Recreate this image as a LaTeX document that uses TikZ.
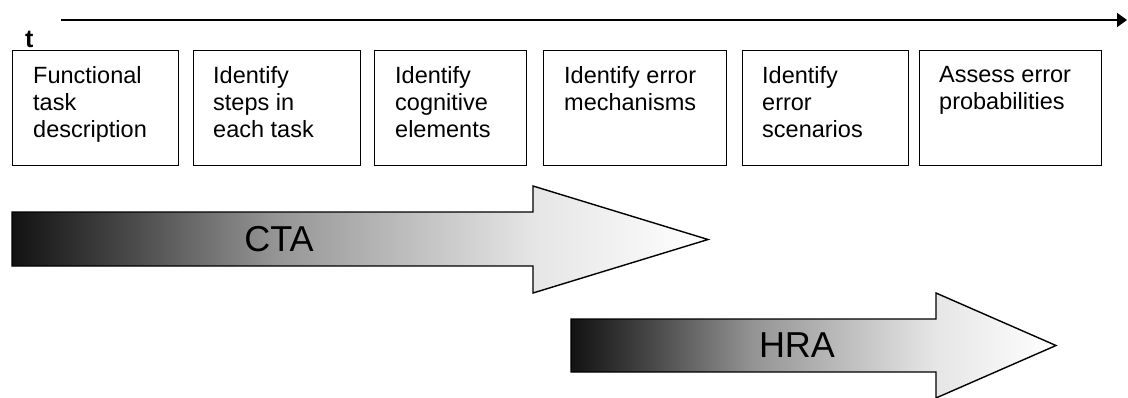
\documentclass[tikz,border=0pt]{standalone}
\usepackage{fontspec}
\setmainfont{Liberation Sans}
\usetikzlibrary{arrows.meta,calc}
\pgfdeclarehorizontalshading{phaseshade}{100bp}{color(0bp)=(black!93); color(25bp)=(black!93); color(34bp)=(black!70); color(43.75bp)=(black!42); color(62.5bp)=(black!10); color(75bp)=(white); color(100bp)=(white)}
\begin{document}
\begin{tikzpicture}[x=1pt,y=-1pt,
  stepbox/.style={draw=black,line width=1.4pt,minimum height=115pt,anchor=north west,inner sep=0pt},
  steptext/.style={anchor=north west,align=left,inner sep=0pt,font=\fontsize{23.5}{27}\selectfont},
  phasearrow/.style={shading=phaseshade,draw=black,line width=1.4pt,line join=miter},
  phaselabel/.style={inner sep=0pt,font=\fontsize{36}{36}\selectfont}]
\useasboundingbox (0,0) rectangle (1128,397);
% time axis
\coordinate (tstart) at (61,20);
\coordinate (tend) at (1127,20);
\draw[line width=2pt,-{Triangle[length=10pt,width=14pt]}] (tstart) -- (tend);
\node[font=\bfseries\fontsize{25}{25}\selectfont,anchor=base west,inner sep=0pt] (tlabel) at (25,47) {t};
% step boxes
\node[stepbox,minimum width=166pt] (b1) at (12,50) {};
\node[stepbox,minimum width=167pt] (b2) at (193,50) {};
\node[stepbox,minimum width=152pt] (b3) at (374,50) {};
\node[stepbox,minimum width=183pt] (b4) at (543,50) {};
\node[stepbox,minimum width=166pt] (b5) at (742,50) {};
\node[stepbox,minimum width=182pt] (b6) at (919,50) {};
\node[steptext] (t1) at ($(b1.north west)+(21,16.5)$) {Functional\\task\\description};
\node[steptext] (t2) at ($(b2.north west)+(20,16.5)$) {Identify\\steps in\\each task};
\node[steptext] (t3) at ($(b3.north west)+(21,16.5)$) {Identify\\cognitive\\elements};
\node[steptext] (t4) at ($(b4.north west)+(21,16.5)$) {Identify error\\mechanisms};
\node[steptext] (t5) at ($(b5.north west)+(20,16.5)$) {Identify\\error\\scenarios};
\node[steptext] (t6) at ($(b6.north west)+(20,16.5)$) {Assess error\\probabilities};
% CTA arrow
\shadedraw[phasearrow] (12,212) -- (533,212) -- (533,186) -- (708,239.5) -- (533,293) -- (533,266) -- (12,266) -- cycle;
\node[phaselabel] (cta) at (279,239.5) {CTA};
% HRA arrow
\shadedraw[phasearrow] (571,319) -- (936,319) -- (936,293) -- (1056,345.5) -- (936,398) -- (936,372) -- (571,372) -- cycle;
\node[phaselabel] (hra) at (797,345.5) {HRA};
\end{tikzpicture}
\end{document}
